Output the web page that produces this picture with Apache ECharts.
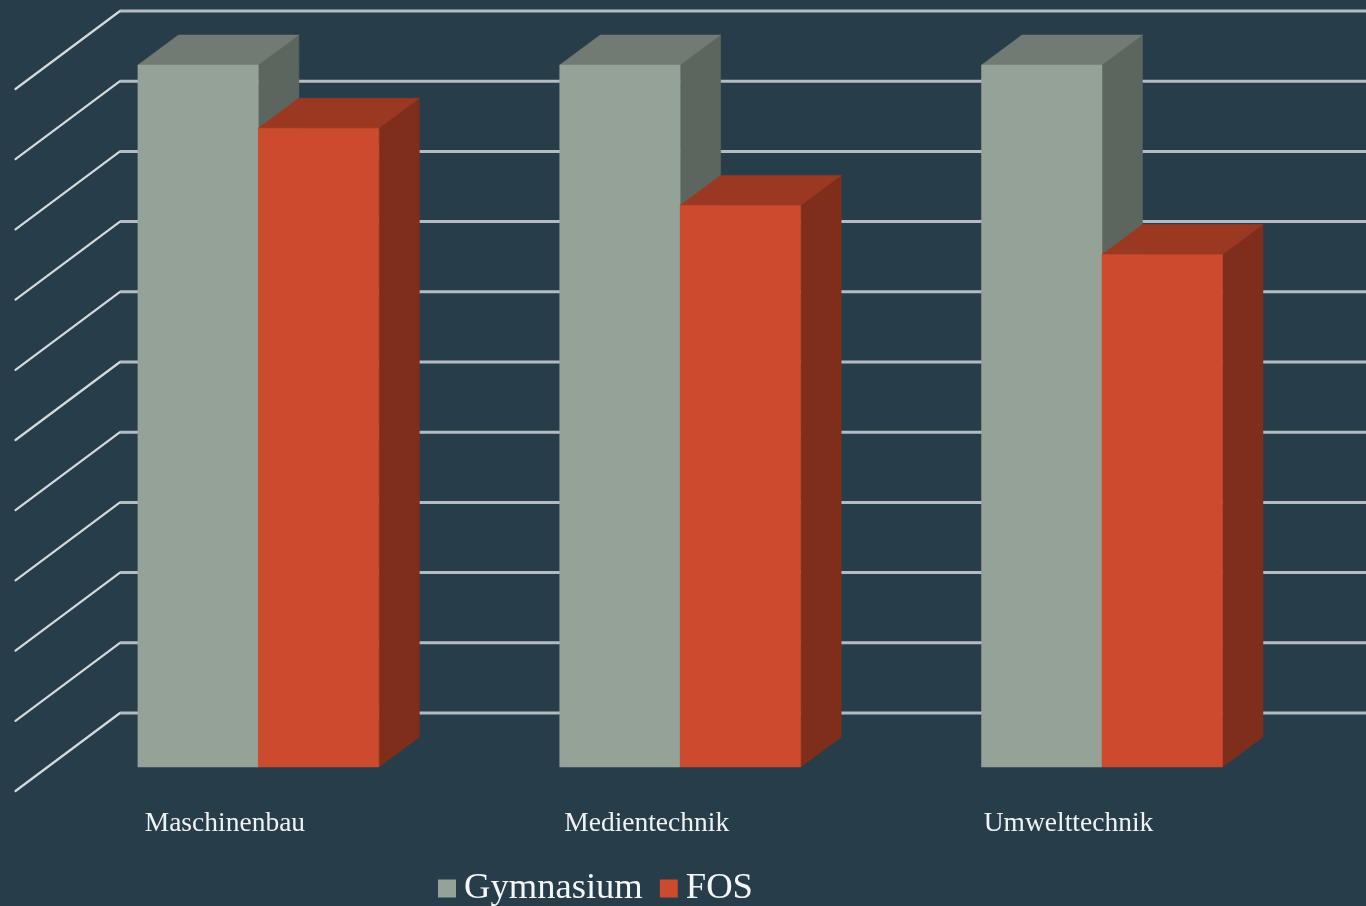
<!DOCTYPE html>
<html><head><meta charset="utf-8">
<style>html,body{margin:0;padding:0;background:#283d4a}#c{width:1366px;height:906px}</style>
<script src="https://cdn.jsdelivr.net/npm/echarts@6/dist/echarts.min.js"></script>
</head><body><div id="c"></div>
<script>
const categories = ['Maschinenbau', 'Medientechnik', 'Umwelttechnik'];
const gymnasium = [100, 100, 100];
const fos = [91, 80, 73];
const yTicks = [0, 10, 20, 30, 40, 50, 60, 70, 80, 90, 100];

const FONT = '"Liberation Serif", serif';
const DX = 40.5, DY = -30;
function shade(c, f) {
  const n = parseInt(c.slice(1), 16);
  const p = s => Math.round(((n >> s) & 255) * f);
  return `rgb(${p(16)},${p(8)},${p(0)})`;
}
function cuboid(side, color) {
  return function (params, api) {
    const cat = api.value(0), v = api.value(1);
    const top = api.coord([cat, v]), base = api.coord([cat, 0]);
    const w = api.size([1, 0])[0] * 0.2857;
    const x0 = side < 0 ? top[0] - w : top[0], x1 = x0 + w;
    const poly = (pts, fill) => ({
      type: 'polygon', shape: { points: pts },
      style: { fill: fill, stroke: fill, lineWidth: 0.5 }
    });
    return {
      type: 'group',
      children: [
        poly([[x1, top[1]], [x1 + DX, top[1] + DY], [x1 + DX, base[1] + DY], [x1, base[1]]], shade(color, 0.625)),
        poly([[x0, top[1]], [x0 + DX, top[1] + DY], [x1 + DX, top[1] + DY], [x1, top[1]]], shade(color, 0.76)),
        poly([[x0, top[1]], [x1, top[1]], [x1, base[1]], [x0, base[1]]], color)
      ]
    };
  };
}
function wallLine(params, api) {
  const y = api.coord([0, api.value(1)])[1];
  return {
    type: 'group',
    children: [
      { type: 'line', shape: { x1: 15.5, y1: y + 24, x2: 120, y2: y - 54 },
        style: { stroke: '#d3d9dc', lineWidth: 2.2, lineCap: 'round' } },
      { type: 'line', shape: { x1: 120, y1: y - 54, x2: 1366, y2: y - 54 },
        style: { stroke: '#b4bcc3', lineWidth: 3 } }
    ]
  };
}
const chart = echarts.init(document.getElementById('c'), null, { renderer: 'canvas' });
chart.setOption({
  animation: false,
  backgroundColor: '#283d4a',
  grid: { left: 47.5, top: 65, width: 1265.4, height: 702 },
  xAxis: {
    type: 'category', data: categories,
    axisLine: { show: false }, axisTick: { show: false }, splitLine: { show: false },
    axisLabel: { color: '#f0f3f4', fontFamily: FONT, fontSize: 27.5, margin: 43, padding: [0, 67, 0, 0] }
  },
  yAxis: { type: 'value', min: 0, max: 100, interval: 10, show: false, splitLine: { show: false } },
  legend: {
    data: ['Gymnasium', 'FOS'], left: 438, top: 870, padding: 0, itemWidth: 18, itemHeight: 18, itemGap: 17,
    icon: 'rect', textStyle: { color: '#f4f6f7', fontFamily: FONT, fontSize: 36.6, padding: [0, 0, 0, 3] }
  },
  series: [
    { type: 'custom', name: 'walls', silent: true, clip: false, z: 1,
      data: yTicks.map(v => [0, v]), renderItem: wallLine },
    { type: 'custom', name: 'Gymnasium', clip: false, z: 2, itemStyle: { color: '#95a298' },
      data: gymnasium.map((v, i) => [i, v]), encode: { x: 0, y: 1 }, renderItem: cuboid(-1, '#95a298') },
    { type: 'custom', name: 'FOS', clip: false, z: 3, itemStyle: { color: '#cc4a2d' },
      data: fos.map((v, i) => [i, v]), encode: { x: 0, y: 1 }, renderItem: cuboid(1, '#cc4a2d') }
  ]
});
</script></body></html>
